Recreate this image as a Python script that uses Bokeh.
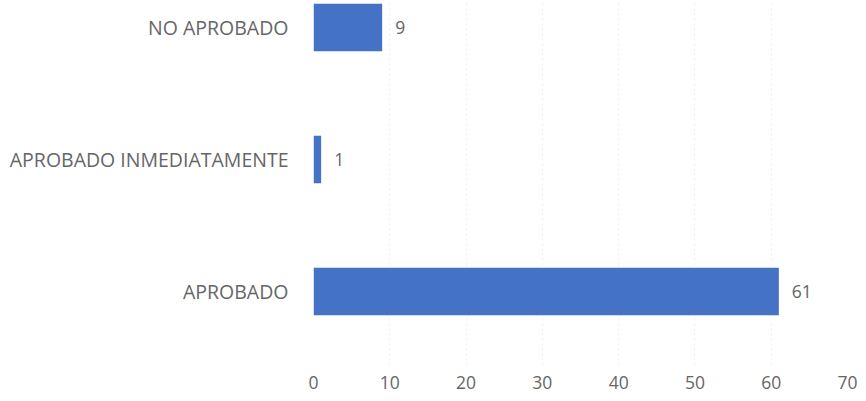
from bokeh.plotting import figure
from bokeh.models import ColumnDataSource, LabelSet, FixedTicker
from bokeh.core.properties import value
from bokeh.embed import file_html
from bokeh.resources import INLINE

categories = ["APROBADO", "APROBADO INMEDIATAMENTE", "NO APROBADO"]
values = [61, 1, 9]
x_ticks = [0, 10, 20, 30, 40, 50, 60, 70]

FONT = "Open Sans"
TXT = "#666666"
BAR = "#4472C4"

ypos = list(range(len(categories)))
src = ColumnDataSource(dict(y=ypos, v=values, lab=[str(v) for v in values]))

p = figure(width=858, height=393, x_range=(0, 70), y_range=(-0.561, 2.2045),
           output_backend="svg", toolbar_location=None,
           min_border_top=0, min_border_right=11, min_border_left=313, min_border_bottom=28)
p.outline_line_color = None
p.background_fill_color = "white"

p.hbar(y="y", right="v", left=0, height=0.36, source=src, fill_color=BAR, line_color=None)

labels = LabelSet(x="v", y="y", text="lab", source=src, x_offset=13, y_offset=0,
                  text_align="left", text_baseline="middle",
                  text_font=value(FONT), text_font_size="17.5px", text_color=TXT)
p.add_layout(labels)

p.yaxis.ticker = FixedTicker(ticks=ypos)
p.yaxis.major_label_overrides = {i: c for i, c in zip(ypos, categories)}
p.yaxis.axis_line_color = None
p.yaxis.major_tick_line_color = None
p.yaxis.minor_tick_line_color = None
p.yaxis.major_label_standoff = 19
p.yaxis.major_label_text_font = FONT
p.yaxis.major_label_text_font_size = "19.5px"
p.yaxis.major_label_text_color = TXT

p.xaxis.ticker = FixedTicker(ticks=x_ticks)
p.xaxis.axis_line_color = None
p.xaxis.major_tick_line_color = None
p.xaxis.minor_tick_line_color = None
p.xaxis.major_label_standoff = 4
p.xaxis.major_label_text_font = FONT
p.xaxis.major_label_text_font_size = "17.5px"
p.xaxis.major_label_text_color = TXT

p.ygrid.grid_line_color = None
p.xgrid.grid_line_color = "#eeeeee"
p.xgrid.grid_line_dash = "2 3"

open("out.html", "w").write(file_html(p, INLINE))
